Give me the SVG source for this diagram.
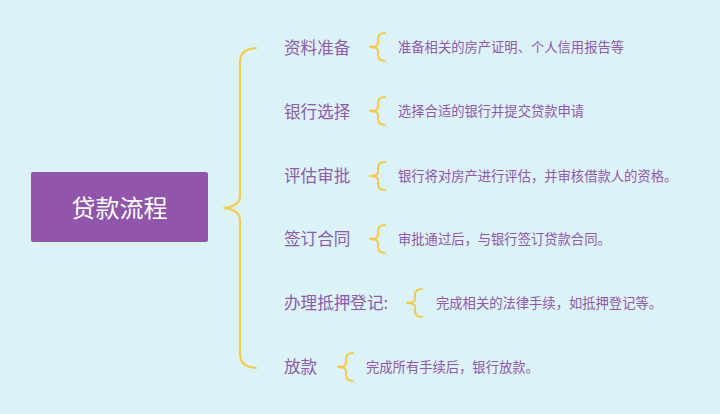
<svg xmlns="http://www.w3.org/2000/svg" width="720" height="414" viewBox="0 0 720 414">
<style>
.bg{fill:#dbf3f6}
.root{fill:#9155ab}
.rt{font-family:"Noto Sans CJK SC","Noto Sans",sans-serif;font-size:24px;fill:#ffffff;text-anchor:middle}
.lb{font-family:"Noto Sans CJK SC","Noto Sans",sans-serif;font-size:16.6px;fill:#8e5aab}
.dt{font-family:"Noto Sans CJK SC","Noto Sans",sans-serif;font-size:13.3px;fill:#9057ad}
.br{fill:none;stroke:#f4c94a;stroke-width:2;stroke-linecap:round;stroke-linejoin:round}
</style>
<defs>
<path id="sb" d="M15,-14 Q8,-14 8,-8 L8,-4 Q8,0 0,0 Q8,0 8,4 L8,8 Q8,14 15,14"/>
</defs>
<rect class="bg" x="0" y="0" width="720" height="414"/>
<g id="connectors">
<path class="br" d="M256,48 Q240,49 240,62 L240,196 Q240,206 224,208 Q240,210 240,220 L240,354 Q240,367 256,368"/>
<use href="#sb" class="br" x="370" y="47"/>
<use href="#sb" class="br" x="370" y="111"/>
<use href="#sb" class="br" x="370" y="176"/>
<use href="#sb" class="br" x="370" y="239"/>
<use href="#sb" class="br" x="407" y="303"/>
<use href="#sb" class="br" x="338" y="367"/>
</g>
<g id="root">
<rect class="root" x="31" y="172" width="177" height="70" rx="2"/>
<text class="rt" x="119.5" y="216.5">贷款流程</text>
</g>
<g id="n1"><text class="lb" x="284" y="54">资料准备</text><text class="dt" x="398" y="52">准备相关的房产证明、个人信用报告等</text></g>
<g id="n2"><text class="lb" x="284" y="118">银行选择</text><text class="dt" x="398" y="116">选择合适的银行并提交贷款申请</text></g>
<g id="n3"><text class="lb" x="284" y="182">评估审批</text><text class="dt" x="398" y="181">银行将对房产进行评估，并审核借款人的资格。</text></g>
<g id="n4"><text class="lb" x="284" y="245">签订合同</text><text class="dt" x="398" y="244">审批通过后，与银行签订贷款合同。</text></g>
<g id="n5"><text class="lb" x="284" y="309">办理抵押登记:</text><text class="dt" x="436" y="308">完成相关的法律手续，如抵押登记等。</text></g>
<g id="n6"><text class="lb" x="284" y="373">放款</text><text class="dt" x="366" y="372">完成所有手续后，银行放款。</text></g>
</svg>
